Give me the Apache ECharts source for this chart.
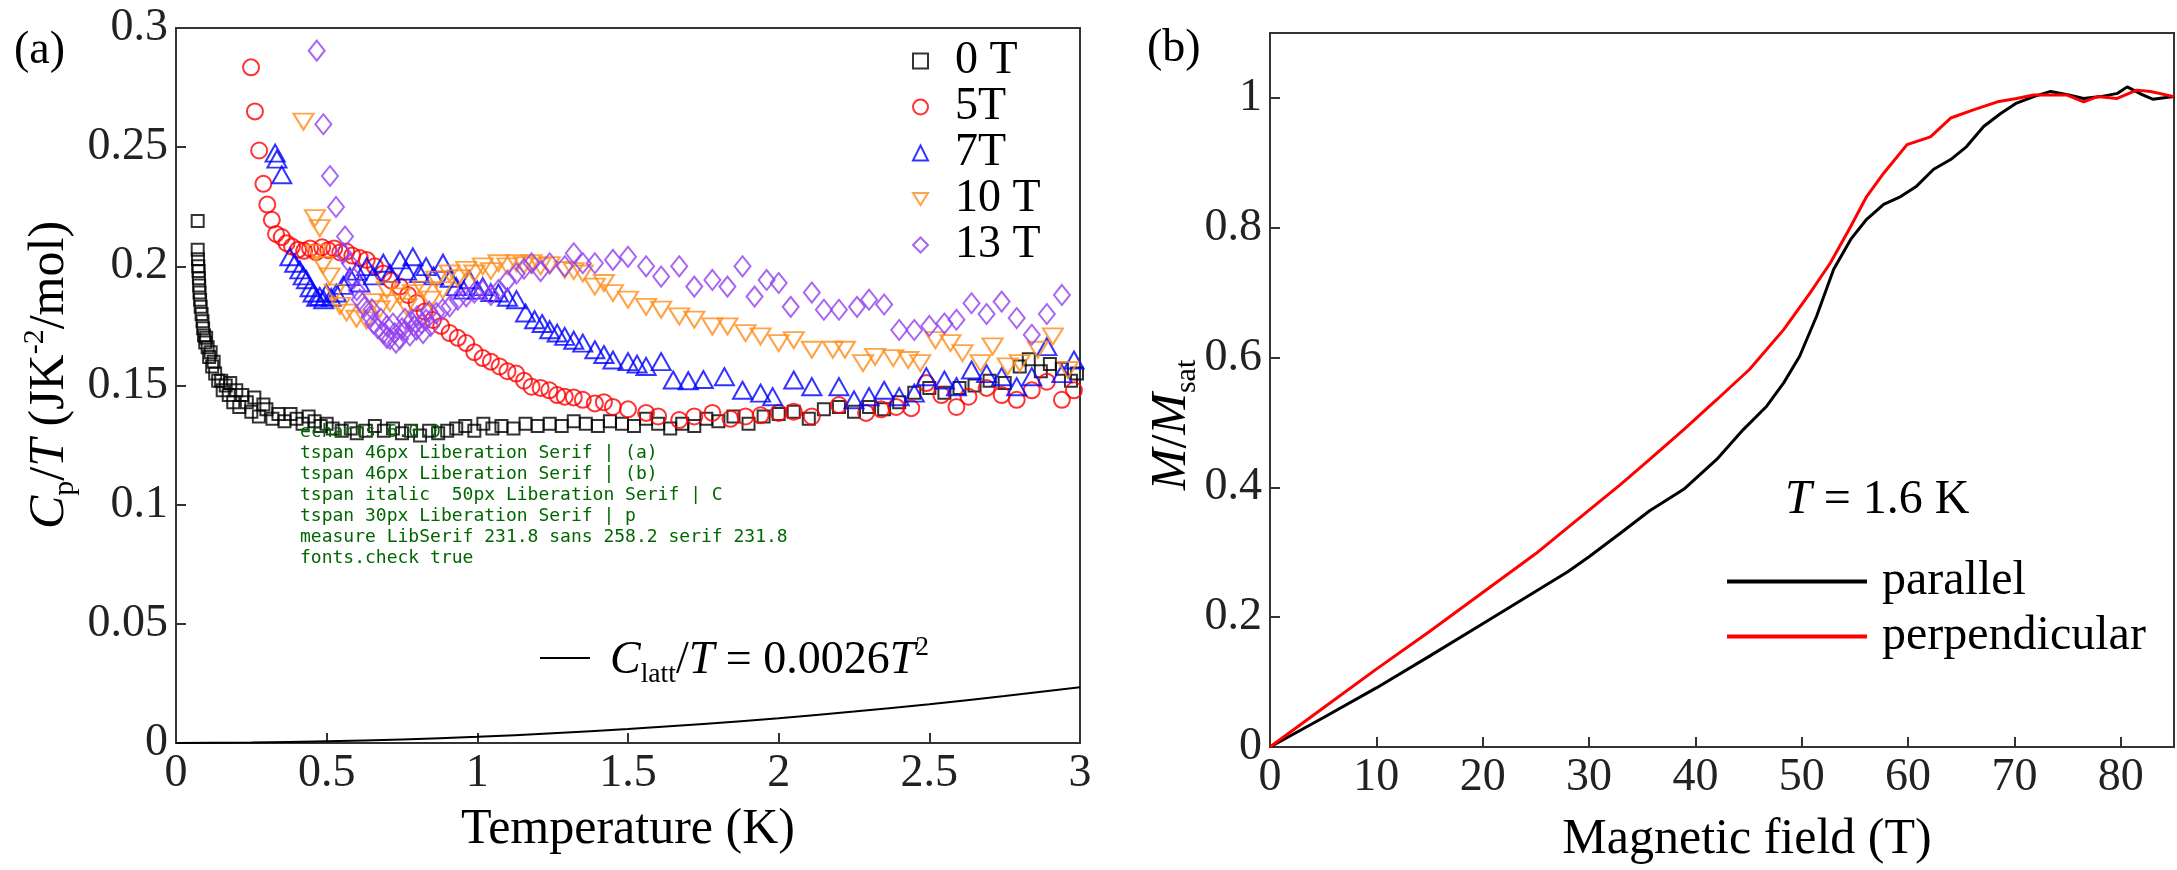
<!DOCTYPE html>
<html lang="en">
<head>
<meta charset="utf-8">
<script src="https://cdn.jsdelivr.net/npm/echarts@6/dist/echarts.min.js"></script>
<style>
  html, body { margin: 0; padding: 0; background: #fff; }
  #chart { width: 2177px; height: 870px; }
  #dbg { position: absolute; left: 300px; top: 420px; font: 18px monospace; color: #060; white-space: pre; z-index: 10; }
</style>
</head>
<body>
<div id="chart"></div>
<div id="dbg"></div>
<script>
// (a) heat capacity data [T (K), Cp/T]
const cp0T = [[0.072,0.219],[0.072,0.207],[0.073,0.203],[0.074,0.2],[0.075,0.198],[0.076,0.195],[0.077,0.192],[0.078,0.189],[0.08,0.186],[0.082,0.183],[0.085,0.18],[0.088,0.177],[0.09,0.174],[0.093,0.171],[0.097,0.168],[0.1,0.17],[0.105,0.166],[0.11,0.162],[0.115,0.164],[0.12,0.158],[0.125,0.16],[0.13,0.155],[0.14,0.152],[0.15,0.152],[0.155,0.148],[0.165,0.15],[0.175,0.146],[0.18,0.151],[0.19,0.143],[0.2,0.148],[0.21,0.141],[0.22,0.146],[0.235,0.143],[0.25,0.139],[0.26,0.145],[0.275,0.137],[0.29,0.142],[0.3,0.14],[0.32,0.136],[0.34,0.138],[0.36,0.135],[0.38,0.138],[0.4,0.136],[0.42,0.134],[0.44,0.137],[0.46,0.135],[0.48,0.133],[0.5,0.134],[0.52,0.132],[0.55,0.131],[0.58,0.132],[0.6,0.13],[0.63,0.131],[0.66,0.133],[0.69,0.131],[0.72,0.132],[0.75,0.13],[0.78,0.131],[0.81,0.129],[0.84,0.131],[0.87,0.13],[0.9,0.131],[0.93,0.132],[0.96,0.133],[0.99,0.131],[1.02,0.134],[1.05,0.132],[1.08,0.133],[1.12,0.132],[1.16,0.134],[1.2,0.133],[1.24,0.134],[1.28,0.133],[1.32,0.135],[1.36,0.134],[1.4,0.133],[1.44,0.135],[1.48,0.134],[1.52,0.133],[1.56,0.136],[1.6,0.134],[1.64,0.132],[1.68,0.134],[1.72,0.133],[1.76,0.136],[1.8,0.135],[1.85,0.137],[1.9,0.134],[1.95,0.137],[2.0,0.138],[2.05,0.139],[2.1,0.136],[2.15,0.14],[2.2,0.141],[2.25,0.139],[2.3,0.141],[2.35,0.14],[2.4,0.143],[2.45,0.147],[2.5,0.149],[2.55,0.147],[2.6,0.149],[2.65,0.15],[2.7,0.152],[2.75,0.151],[2.8,0.158],[2.83,0.161],[2.87,0.156],[2.9,0.159],[2.94,0.157],[2.97,0.152],[2.99,0.155]]
const cp5T = [[0.249,0.2835],[0.262,0.265],[0.276,0.2486],[0.29,0.2346],[0.303,0.2259],[0.318,0.2195],[0.332,0.2136],[0.351,0.2123],[0.367,0.2097],[0.385,0.2083],[0.405,0.207],[0.425,0.2065],[0.445,0.2075],[0.465,0.206],[0.485,0.208],[0.505,0.2068],[0.525,0.2075],[0.545,0.2058],[0.565,0.2062],[0.585,0.2045],[0.61,0.2035],[0.633,0.2027],[0.66,0.2],[0.688,0.197],[0.715,0.194],[0.743,0.1915],[0.77,0.188],[0.798,0.1846],[0.825,0.181],[0.853,0.1775],[0.88,0.175],[0.908,0.172],[0.935,0.17],[0.963,0.1678],[0.99,0.164],[1.018,0.1615],[1.045,0.16],[1.074,0.158],[1.1,0.156],[1.129,0.155],[1.155,0.152],[1.18,0.1495],[1.21,0.149],[1.239,0.148],[1.265,0.146],[1.29,0.1453],[1.32,0.145],[1.35,0.144],[1.39,0.1425],[1.42,0.143],[1.45,0.141],[1.5,0.14],[1.56,0.1385],[1.6,0.137],[1.67,0.1355],[1.72,0.137],[1.78,0.1385],[1.84,0.136],[1.89,0.137],[1.94,0.1375],[2.0,0.1385],[2.05,0.139],[2.11,0.137],[2.2,0.1418],[2.29,0.1385],[2.34,0.14],[2.39,0.141],[2.44,0.1405],[2.49,0.151],[2.54,0.146],[2.59,0.141],[2.63,0.1453],[2.69,0.149],[2.74,0.146],[2.79,0.144],[2.84,0.148],[2.89,0.1516],[2.94,0.144],[2.98,0.148]]
const cp7T = [[0.329,0.2475],[0.335,0.245],[0.351,0.2384],[0.378,0.204],[0.394,0.2013],[0.411,0.1985],[0.422,0.196],[0.433,0.1944],[0.445,0.191],[0.455,0.1888],[0.467,0.187],[0.477,0.1874],[0.49,0.186],[0.499,0.1888],[0.515,0.187],[0.532,0.1888],[0.555,0.192],[0.577,0.1957],[0.6,0.198],[0.61,0.193],[0.633,0.1999],[0.655,0.196],[0.688,0.2013],[0.71,0.197],[0.743,0.2027],[0.765,0.198],[0.786,0.204],[0.808,0.197],[0.83,0.1999],[0.855,0.196],[0.886,0.2013],[0.91,0.195],[0.93,0.1915],[0.955,0.19],[0.974,0.1944],[1.0,0.19],[1.018,0.1915],[1.045,0.189],[1.07,0.1888],[1.1,0.187],[1.13,0.186],[1.16,0.1804],[1.19,0.1776],[1.215,0.176],[1.24,0.1734],[1.265,0.172],[1.29,0.1706],[1.32,0.169],[1.35,0.1678],[1.39,0.165],[1.42,0.163],[1.45,0.1607],[1.5,0.16],[1.53,0.159],[1.56,0.158],[1.61,0.16],[1.65,0.1523],[1.7,0.152],[1.75,0.1525],[1.82,0.1537],[1.88,0.148],[1.94,0.1468],[1.98,0.1453],[2.05,0.1523],[2.11,0.1495],[2.2,0.1495],[2.25,0.144],[2.3,0.1453],[2.35,0.148],[2.4,0.1453],[2.45,0.1468],[2.49,0.1537],[2.55,0.1523],[2.59,0.1495],[2.64,0.1565],[2.69,0.155],[2.74,0.1537],[2.79,0.1495],[2.84,0.1537],[2.89,0.1663],[2.94,0.155],[2.98,0.1607]]
const cp10T = [[0.423,0.2607],[0.461,0.2202],[0.477,0.216],[0.466,0.2056],[0.488,0.2006],[0.51,0.1958],[0.527,0.189],[0.544,0.1834],[0.566,0.1806],[0.599,0.178],[0.632,0.1773],[0.655,0.185],[0.676,0.182],[0.7,0.19],[0.71,0.1846],[0.743,0.1874],[0.765,0.183],[0.786,0.1888],[0.82,0.1902],[0.845,0.186],[0.864,0.1944],[0.885,0.19],[0.908,0.197],[0.935,0.195],[0.963,0.1985],[0.99,0.197],[1.018,0.2],[1.045,0.198],[1.07,0.2013],[1.1,0.2],[1.13,0.2013],[1.155,0.2005],[1.18,0.2013],[1.21,0.2],[1.24,0.2005],[1.29,0.1985],[1.32,0.198],[1.35,0.197],[1.39,0.1915],[1.42,0.193],[1.45,0.1888],[1.5,0.186],[1.56,0.183],[1.61,0.1818],[1.67,0.179],[1.72,0.1776],[1.78,0.1748],[1.83,0.1748],[1.89,0.172],[1.94,0.1706],[2.0,0.1678],[2.05,0.169],[2.11,0.165],[2.18,0.165],[2.22,0.165],[2.28,0.1594],[2.32,0.162],[2.38,0.1615],[2.43,0.1607],[2.47,0.1594],[2.52,0.169],[2.57,0.1678],[2.61,0.1636],[2.67,0.1594],[2.71,0.1664],[2.76,0.158],[2.8,0.1594],[2.86,0.165],[2.91,0.1706],[2.96,0.1565]]
const cp13T = [[0.467,0.2905],[0.489,0.2596],[0.511,0.2379],[0.531,0.2249],[0.561,0.2125],[0.555,0.2055],[0.577,0.2013],[0.59,0.195],[0.6,0.19],[0.61,0.186],[0.625,0.183],[0.643,0.179],[0.65,0.182],[0.655,0.176],[0.67,0.174],[0.68,0.178],[0.688,0.172],[0.7,0.17],[0.7,0.175],[0.71,0.1695],[0.72,0.176],[0.725,0.172],[0.73,0.168],[0.743,0.1695],[0.75,0.174],[0.76,0.173],[0.76,0.178],[0.776,0.171],[0.78,0.177],[0.79,0.175],[0.798,0.1734],[0.8,0.179],[0.815,0.176],[0.82,0.172],[0.83,0.1776],[0.84,0.181],[0.845,0.175],[0.864,0.1804],[0.885,0.182],[0.908,0.1832],[0.935,0.186],[0.963,0.1874],[0.99,0.189],[1.018,0.19],[1.045,0.188],[1.07,0.19],[1.1,0.194],[1.13,0.197],[1.155,0.199],[1.18,0.2013],[1.21,0.198],[1.24,0.2013],[1.29,0.2],[1.32,0.2055],[1.35,0.2013],[1.39,0.2013],[1.45,0.2027],[1.5,0.204],[1.56,0.2],[1.61,0.1957],[1.67,0.2],[1.72,0.1915],[1.78,0.1943],[1.83,0.1915],[1.88,0.2],[1.92,0.1873],[1.96,0.1943],[2.0,0.193],[2.04,0.183],[2.11,0.189],[2.15,0.1818],[2.2,0.1818],[2.26,0.183],[2.3,0.186],[2.35,0.184],[2.4,0.1733],[2.45,0.1733],[2.5,0.175],[2.55,0.176],[2.59,0.1776],[2.64,0.1845],[2.69,0.18],[2.74,0.1852],[2.79,0.1783],[2.84,0.1713],[2.89,0.18],[2.94,0.188]]
// lattice curve
const cpLatt = [[0,0],[0.25,0.0002],[0.5,0.0007],[0.75,0.0015],[1,0.0026],[1.25,0.0041],[1.5,0.0059],[1.75,0.008],[2,0.0104],[2.25,0.0132],[2.5,0.0163],[2.75,0.0197],[3,0.0234]]

// (b) magnetization [B (T), M/Msat]
const mParallel = [[0,0],[5,0.045],[10,0.091],[15,0.14],[20,0.19],[25,0.24],[28,0.27],[30,0.293],[33,0.33],[35.7,0.364],[38.9,0.397],[42,0.443],[44.5,0.489],[46.7,0.525],[48.3,0.561],[49.8,0.602],[51.4,0.664],[53,0.736],[54.6,0.782],[56.1,0.813],[57.7,0.836],[59.3,0.848],[60.8,0.864],[62.4,0.89],[64,0.905],[65.5,0.925],[67.1,0.956],[68.7,0.976],[70.2,0.992],[71.8,1.002],[73.4,1.01],[75,1.005],[76.5,0.999],[78.1,1.002],[79.7,1.007],[80.6,1.017],[82,1.005],[83,0.998],[85,1.002]]
const mPerp = [[0,0],[5,0.06],[10,0.12],[15,0.178],[20,0.238],[25,0.298],[30,0.365],[33,0.405],[35.7,0.443],[38.9,0.489],[42,0.535],[45.1,0.582],[48.3,0.643],[50.8,0.7],[52.7,0.746],[54.6,0.802],[56.1,0.848],[57.7,0.884],[59.9,0.928],[62.1,0.94],[64,0.969],[66.2,0.982],[68.4,0.994],[70.2,0.999],[71.8,1.0046],[74.9,1.0046],[76.5,0.994],[77.8,1.002],[79.6,0.999],[81.5,1.012],[82.8,1.01],[85,1.002]]

const legendA = ['0 T', '5T', '7T', '10 T', '13 T']
const legendB = ['parallel', 'perpendicular']

const FONT = 'Liberation Serif'
const AXIS_COLOR = '#333'

function richSet(size) {
  const base = { fontSize: size, fontFamily: FONT, color: '#000', lineHeight: size * 1.2, verticalAlign: 'middle' }
  return {
    n: base,
    i: Object.assign({}, base, { fontStyle: 'italic' }),
    sub: { fontSize: size * 0.6, fontFamily: FONT, color: '#000', lineHeight: size * 0.6, verticalAlign: 'bottom' },
    sup: { fontSize: size * 0.6, fontFamily: FONT, color: '#000', lineHeight: size * 0.6, verticalAlign: 'top' },
  }
}

function valueAxis(extra) {
  return Object.assign({
    type: 'value',
    axisLine: { show: true, lineStyle: { color: AXIS_COLOR, width: 2 } },
    axisTick: { show: true, inside: true, length: 10, lineStyle: { color: AXIS_COLOR, width: 2 } },
    splitLine: { show: false },
    axisLabel: { fontFamily: FONT, fontSize: 46, color: '#222', margin: 8 },
  }, extra)
}

function hollow(name, symbol, size, color, data) {
  return {
    name: name,
    type: 'scatter',
    xAxisIndex: 0,
    yAxisIndex: 0,
    symbol: symbol,
    symbolSize: size,
    itemStyle: { color: 'rgba(0,0,0,0)', borderColor: color, borderWidth: 2 },
    data: data,
  }
}

const option = {
  animation: false,
  backgroundColor: '#fff',
  textStyle: { fontFamily: FONT },
  grid: [
    { left: 176, top: 28, width: 904, height: 715, show: true, borderColor: AXIS_COLOR, borderWidth: 2, backgroundColor: 'transparent' },
    { left: 1270, top: 33, width: 904, height: 715, show: true, borderColor: AXIS_COLOR, borderWidth: 2, backgroundColor: 'transparent' },
  ],
  xAxis: [
    valueAxis({
      gridIndex: 0, min: 0, max: 3, interval: 0.5,
      name: 'Temperature (K)', nameLocation: 'middle', nameGap: 62,
      nameTextStyle: { fontFamily: FONT, fontSize: 50, color: '#000' },
    }),
    valueAxis({
      gridIndex: 1, min: 0, max: 85, interval: 10,
      name: 'Magnetic field (T)', nameLocation: 'middle', nameGap: 68,
      nameTextStyle: { fontFamily: FONT, fontSize: 50, color: '#000', padding: [0, 0, 0, 50] },
      axisLabel: { fontFamily: FONT, fontSize: 46, color: '#222', margin: 8, showMaxLabel: false },
    }),
  ],
  yAxis: [
    valueAxis({ gridIndex: 0, min: 0, max: 0.3, interval: 0.05 }),
    valueAxis({
      gridIndex: 1, min: 0, max: 1.1, interval: 0.2,
      axisLabel: { fontFamily: FONT, fontSize: 46, color: '#222', margin: 8, showMaxLabel: false },
    }),
  ],
  legend: [
    {
      data: legendA,
      orient: 'vertical',
      left: 907,
      top: 33,
      itemWidth: 15,
      itemHeight: 15,
      itemGap: 0,
      selectedMode: false,
      textStyle: { fontFamily: FONT, fontSize: 46, color: '#000', lineHeight: 45, padding: [0, 0, 0, 22] },
    },
    {
      data: legendB,
      orient: 'vertical',
      left: 1722,
      top: 549,
      icon: 'rect',
      itemWidth: 140,
      itemHeight: 4,
      itemGap: 0,
      selectedMode: false,
      textStyle: { fontFamily: FONT, fontSize: 48, color: '#000', lineHeight: 55, padding: [0, 0, 0, 10] },
    },
  ],
  graphic: [
    { type: 'text', left: 14, top: 28, style: { text: '(a)', fontFamily: FONT, fontSize: 46, fill: '#000' } },
    { type: 'text', left: 1147, top: 26, style: { text: '(b)', fontFamily: FONT, fontSize: 46, fill: '#000' } },
    {
      type: 'text', x: 50, y: 375, rotation: Math.PI / 2,
      style: {
        text: '{i|C}{sub|p}{n|/}{i|T}{n| (JK}{sup|-2}{n|/mol)}',
        rich: richSet(50), align: 'center', verticalAlign: 'middle',
      },
    },
    {
      type: 'text', x: 1172, y: 425, rotation: Math.PI / 2,
      style: {
        text: '{i|M}{n|/}{i|M}{sub|sat}',
        rich: richSet(50), align: 'center', verticalAlign: 'middle',
      },
    },
    { type: 'line', shape: { x1: 540, y1: 658, x2: 590, y2: 658 }, style: { stroke: '#000', lineWidth: 2 } },
    {
      type: 'text', x: 610, y: 661,
      style: {
        text: '{i|C}{sub|latt}{n|/}{i|T}{n| = 0.0026}{i|T}{sup|2}',
        rich: richSet(46), align: 'left', verticalAlign: 'middle',
      },
    },
    {
      type: 'text', x: 1785, y: 500,
      style: {
        text: '{i|T}{n| = 1.6 K}',
        rich: richSet(48), align: 'left', verticalAlign: 'middle',
      },
    },
  ],
  series: [
    hollow('0 T', 'rect', 12, '#000000', cp0T),
    hollow('5T', 'circle', 16, '#ff0000', cp5T),
    hollow('7T', 'triangle', [19, 17], '#0000ff', cp7T),
    hollow('10 T', 'path://M0,0L20,0L10,16Z', [20, 16], '#ff8c1a', cp10T),
    hollow('13 T', 'diamond', [16, 20], '#9440ed', cp13T),
    {
      name: 'latt', type: 'line', xAxisIndex: 0, yAxisIndex: 0,
      smooth: true, symbol: 'none', lineStyle: { color: '#000', width: 2 }, data: cpLatt,
    },
    {
      name: 'parallel', type: 'line', xAxisIndex: 1, yAxisIndex: 1,
      symbol: 'none', lineStyle: { color: '#000', width: 3 }, itemStyle: { color: '#000' }, data: mParallel,
    },
    {
      name: 'perpendicular', type: 'line', xAxisIndex: 1, yAxisIndex: 1,
      symbol: 'none', lineStyle: { color: '#ff0000', width: 3 }, itemStyle: { color: '#ff0000' }, data: mPerp,
    },
  ],
}

const myChart = echarts.init(document.getElementById('chart'))
myChart.setOption(option, true)

// temporary font check
const lines = []
const texts = []
myChart.getZr().storage.getDisplayList().forEach(e => { if (e.style && e.style.text != null && texts.length < 4) texts.push(e.type + ' ' + e.style.font + ' | ' + e.style.text) })
lines.push('echarts ' + echarts.version)
texts.forEach(t => lines.push(t))
const cv = document.createElement('canvas').getContext('2d')
cv.font = '46px "Liberation Serif"'; const w1 = cv.measureText('Temperature').width
cv.font = '46px sans-serif'; const w2 = cv.measureText('Temperature').width
cv.font = '46px serif'; const w3 = cv.measureText('Temperature').width
lines.push('measure LibSerif ' + w1.toFixed(1) + ' sans ' + w2.toFixed(1) + ' serif ' + w3.toFixed(1))
lines.push('fonts.check ' + (document.fonts ? document.fonts.check('46px "Liberation Serif"') : 'n/a'))
document.getElementById('dbg').textContent = lines.join('\n')
</script>
</body>
</html>
